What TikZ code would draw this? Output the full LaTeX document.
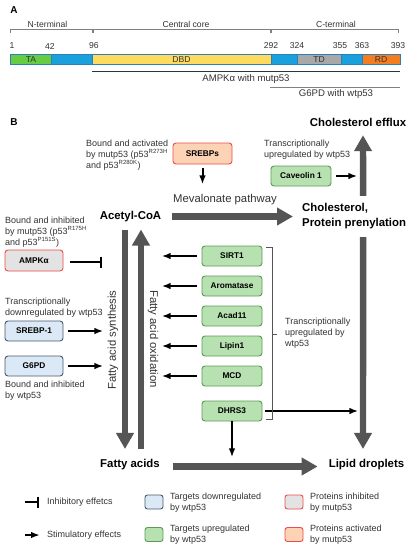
\documentclass[tikz,border=0pt]{standalone}
\usepackage{fontspec}
\setmainfont{Liberation Sans}
\usetikzlibrary{arrows.meta,positioning}

\definecolor{tagreen}{HTML}{66CC44}
\definecolor{p53blue}{HTML}{1AA0DB}
\definecolor{dbdyellow}{HTML}{FEDA5E}
\definecolor{tdgray}{HTML}{A8A8A8}
\definecolor{rdorange}{HTML}{F47D20}
\definecolor{barline}{HTML}{2C7FB8}
\definecolor{upfill}{HTML}{B7E1B0}
\definecolor{upline}{HTML}{5B9B55}
\definecolor{downfill}{HTML}{DBE9F6}
\definecolor{downline}{HTML}{4A5A6A}
\definecolor{inhfill}{HTML}{E3E3E3}
\definecolor{actfill}{HTML}{FCD3B4}
\definecolor{redline}{HTML}{EE4B4B}
\definecolor{bigdark}{HTML}{555555}
\definecolor{txtgray}{HTML}{333333}
\definecolor{bracegray}{HTML}{555555}

\begin{document}
\begin{tikzpicture}[x=1pt, y=-1pt,
    note/.style={inner sep=0pt, align=left, anchor=west, text=txtgray, font=\fontsize{9}{11.3}\selectfont},
    hub/.style={inner sep=0pt, font=\bfseries\fontsize{11.4}{15}\selectfont},
    pathlabel/.style={inner sep=0pt, text=txtgray, font=\fontsize{11.3}{13}\selectfont},
    box/.style={draw, rounded corners=3pt, line width=0.9pt, minimum height=20pt, inner sep=0pt, font=\bfseries\fontsize{8.3}{10}\selectfont},
    tgtup/.style={box, fill=upfill, draw=upline, minimum width=60pt},
    tgtdown/.style={box, fill=downfill, draw=downline, minimum width=58pt},
    protinh/.style={box, fill=inhfill, draw=redline, minimum width=58pt},
    protact/.style={box, fill=actfill, draw=redline, minimum width=59pt},
    legbox/.style={draw, rounded corners=2.5pt, line width=0.9pt, minimum width=18pt, minimum height=14pt, inner sep=0pt},
    bigarrow/.style={line width=6.4pt, draw=bigdark, -{Triangle[length=16pt,width=17pt]}},
    stim/.style={line width=2pt, -{Latex[length=9pt,width=6.5pt]}},
    inhib/.style={line width=2pt, -{Bar[width=11pt]}},
    brace/.style={draw=bracegray, line width=0.8pt},
    domtext/.style={inner sep=0pt, text=txtgray, font=\fontsize{8.6}{10}\selectfont},
]
    \path[fill=white] (0,0) rectangle (410,550);
    \useasboundingbox (0,0) rectangle (410,550);

    % Panel A: p53 domains
    \node[font=\bfseries\fontsize{10}{12}\selectfont, inner sep=0pt] (panelA) at (14,10) {A};
    \node[domtext] (nterm) at (47.5,24) {N-terminal};
    \node[domtext] (core) at (186,24) {Central core};
    \node[domtext] (cterm) at (336,24) {C-terminal};
    \draw[brace, draw=gray] (10.7,33) -- (10.7,29.5) -- (92,29.5) -- (92,33);
    \draw[brace, draw=gray] (93,33) -- (93,29.5) -- (270,29.5) -- (270,33);
    \draw[brace, draw=gray] (271,33) -- (271,29.5) -- (398.5,29.5) -- (398.5,33);
    \foreach \pos/\num in {12/1, 50/42, 94/96, 271/292, 297/324, 340/355, 362/363, 398/393}
        \node[domtext] at (\pos,46) {\num};
    \foreach \a/\b/\c in {10.7/51/tagreen, 51/92/p53blue, 92/271/dbdyellow, 271/297/p53blue,
                          297/341/tdgray, 341/362/p53blue, 362/400/rdorange}
        \draw[draw=barline, line width=0.6pt, fill=\c] (\a,54) rectangle (\b,64);
    \node[domtext] (ta) at (31,59.5) {TA};
    \node[domtext] (dbd) at (181.5,59.5) {DBD};
    \node[domtext] (td) at (319,59.5) {TD};
    \node[domtext] (rd) at (381,59.5) {RD};
    \draw[draw=txtgray, line width=0.8pt] (92,71) -- (400,71);
    \node[domtext, font=\fontsize{9.6}{11}\selectfont] (ampkrange) at (246,79) {AMPKα with mutp53};
    \draw[draw=gray, line width=1.6pt] (270,87.5) -- (400,87.5);
    \node[domtext, font=\fontsize{9.6}{11}\selectfont] (g6pdrange) at (336,94.5) {G6PD with wtp53};

    % Panel B: metabolites
    \node[font=\bfseries\fontsize{10}{12}\selectfont, inner sep=0pt] (panelB) at (14,122) {B};
    \node[hub] (acoa) at (130.5,216.5) {Acetyl-CoA};
    \node[hub, anchor=west, align=left] (chol) at (302,216.5) {Cholesterol,\\Protein prenylation};
    \node[hub] (efflux) at (358,122) {Cholesterol efflux};
    \node[hub] (fa) at (130,465) {Fatty acids};
    \node[hub] (ld) at (366.5,465) {Lipid droplets};

    % Pathways
    \draw[bigarrow] ([xshift=11pt]acoa.east) -- ([xshift=-9pt]chol.west);
    \node[pathlabel] (meva) at (225,200) {Mevalonate pathway};
    \draw[bigarrow] ([xshift=9pt,yshift=7.7pt]chol.north) -- ([xshift=5pt,yshift=-8.8pt]efflux.south);
    \draw[bigarrow] ([xshift=9pt,yshift=-7.6pt]chol.south) -- ([xshift=-3.5pt,yshift=10.5pt]ld.north);
    \draw[bigarrow] ([xshift=-5.5pt,yshift=-7.5pt]acoa.south) -- ([xshift=-5pt,yshift=10.5pt]fa.north);
    \draw[bigarrow] ([xshift=11pt,yshift=10.5pt]fa.north) -- ([xshift=10.5pt,yshift=-7.5pt]acoa.south);
    \draw[bigarrow] ([xshift=13pt,yshift=-1.5pt]fa.east) -- ([xshift=-11pt,yshift=-1.5pt]ld.west);
    \node[pathlabel, rotate=90] (synth) at (113,340) {Fatty acid synthesis};
    \node[pathlabel, rotate=-90] (oxid) at (153,339) {Fatty acid oxidation};

    % Regulators
    \node[note] (srebpsnote) at (86,155) {Bound and activated\\by mutp53 (p53\textsuperscript{R273H}\\and p53\textsuperscript{R280K})};
    \node[protact, minimum height=21pt] (srebps) at (202.5,153.5) {SREBPs};
    \draw[stim] ([yshift=-4pt]srebps.south) -- ([yshift=-20pt]srebps.south);

    \node[note] (cavnote) at (264,150) {Transcriptionally\\upregulated by wtp53};
    \node[tgtup] (cav) at (301,176) {Caveolin 1};
    \draw[stim] ([xshift=5pt]cav.east) -- ([xshift=26pt]cav.east);

    \node[note] (ampknote) at (5,232) {Bound and inhibited\\by mutp53 (p53\textsuperscript{R175H}\\and p53\textsuperscript{P151S})};
    \node[protinh, minimum height=21pt] (ampk) at (34,260.5) {AMPKα};
    \draw[inhib] ([xshift=7pt,yshift=-1.5pt]ampk.east) -- ([xshift=39pt,yshift=-1.5pt]ampk.east);

    \node[note] (srebp1note) at (5,307.5) {Transcriptionally\\downregulated by wtp53};
    \node[tgtdown] (srebp1) at (34,331) {SREBP-1};
    \draw[stim] ([xshift=5pt]srebp1.east) -- ([xshift=40pt]srebp1.east);

    \node[tgtdown] (g6pd) at (34,366) {G6PD};
    \draw[stim] ([xshift=5pt]g6pd.east) -- ([xshift=40pt]g6pd.east);
    \node[note] (g6pdnote) at (5,391) {Bound and inhibited\\by wtp53};

    % wtp53 targets
    \node[tgtup] (sirt) at (232,256) {SIRT1};
    \node[tgtup] (arom) at (232,286) {Aromatase};
    \node[tgtup] (acad) at (232,316) {Acad11};
    \node[tgtup] (lipin) at (232,346) {Lipin1};
    \node[tgtup] (mcd) at (232,376) {MCD};
    \node[tgtup] (dhrs) at (232,411) {DHRS3};
    \foreach \n in {sirt,arom,acad,lipin,mcd}
        \draw[stim] ([xshift=-5pt]\n.west) -- ([xshift=-40pt]\n.west);
    \draw[stim] ([xshift=3pt]dhrs.east) -- ([xshift=96pt]dhrs.east);
    \draw[stim] (dhrs.south) -- ([yshift=-36pt]dhrs.south);

    \node[note] (upnote) at (285,333) {Transcriptionally\\upregulated by\\wtp53};
    \draw[brace] ([xshift=4pt,yshift=-2pt]sirt.north east) -- ++(6,0) |- ([xshift=4pt,yshift=2pt]dhrs.south east);
    \draw[brace] ([xshift=-13pt,yshift=-1pt]upnote.west) -- ([xshift=-8pt,yshift=-1pt]upnote.west);

    % Legend
    \coordinate (inhA) at (25,502);
    \coordinate (stimA) at (25,535);
    \draw[inhib] (inhA) -- ([xshift=14pt]inhA);
    \draw[stim] (stimA) -- ([xshift=15pt]stimA);
    \node[note] (inhtext) at (47,502.5) {Inhibitory effetcs};
    \node[note] (stimtext) at (47,535.5) {Stimulatory effects};
    \node[legbox, fill=downfill, draw=downline] (kdown) at (154,502) {};
    \node[legbox, fill=upfill, draw=upline] (kup) at (154,534.5) {};
    \node[legbox, fill=inhfill, draw=redline] (kinh) at (294,502) {};
    \node[legbox, fill=actfill, draw=redline] (kact) at (294,534.5) {};
    \node[note] (kdowntext) at (170,502.5) {Targets downregulated\\by wtp53};
    \node[note] (kuptext) at (170,534.5) {Targets upregulated\\by wtp53};
    \node[note] (kinhtext) at (310,502.5) {Proteins inhibited\\by mutp53};
    \node[note] (kacttext) at (310,534.5) {Proteins activated\\by mutp53};
\end{tikzpicture}
\end{document}
